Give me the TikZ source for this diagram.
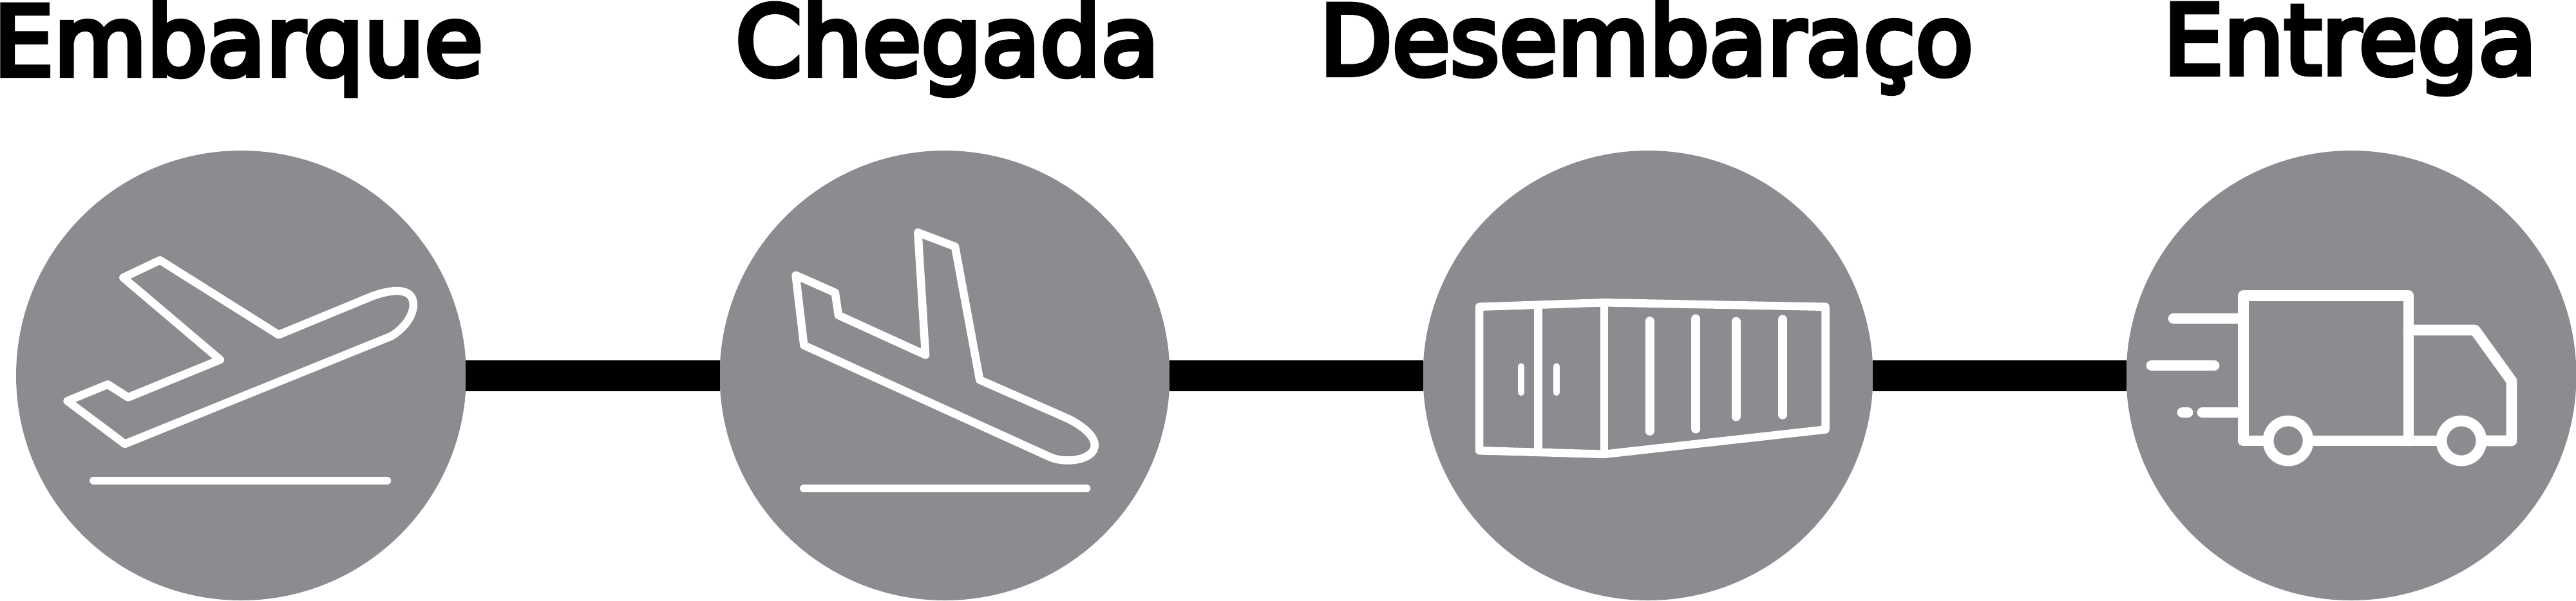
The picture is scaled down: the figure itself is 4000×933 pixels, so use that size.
\documentclass[tikz,border=0pt]{standalone}
\usepackage{graphicx}
\usepackage{fontspec}
\newfontfamily\titlefont{DejaVu Sans}[RawFeature={embolden=5.5}]
\definecolor{disc}{RGB}{138,140,143}
\tikzset{
  disc node/.style={circle,fill=disc,draw=none,inner sep=0pt,outer sep=0pt,minimum size=69.9pt},
  title node/.style={anchor=base west,inner sep=0pt,outer sep=0pt,font=\fontsize{15pt}{15pt}\titlefont},
  link/.style={line width=4.8pt,black,shorten <=-0.05pt,shorten >=-0.05pt},
  icon/.style={draw=white,line width=1.25pt,line join=round,line cap=round},
  rib/.style={draw=white,line width=1.4pt,line cap=round},
  handle/.style={draw=white,line width=1pt,line cap=round},
  truck/.style={draw=white,line width=1.68pt,line join=round,line cap=round},
  zoomed/.style={x=0.05102pt,y=-0.04675pt}
}
\begin{document}
\begin{tikzpicture}[x=0.1pt,y=-0.1pt]
\useasboundingbox (0,0) rectangle (4000,933);
\fill[white] (0,0) rectangle (4000,933);
\node[disc node] (c1) at (374.5,583.5) {};
\node[disc node] (c2) at (1467,583.5) {};
\node[disc node] (c3) at (2559,583.5) {};
\node[disc node] (c4) at (3651,583.5) {};
\draw[link] (c1) -- (c2);
\draw[link] (c2) -- (c3);
\draw[link] (c3) -- (c4);
\node[title node] (t1) at (-10,117) {\resizebox{76pt}{\height}{Embarque}};
\node[title node] (t2) at (1142,117) {\resizebox{65.8pt}{\height}{Chegada}};
\node[title node] (t3) at (2049,116) {\resizebox{101.5pt}{\height}{Desembaraço}};
\node[title node] (t4) at (3359,115) {\resizebox{58pt}{\height}{Entrega}};
% take-off plane
\begin{scope}[xshift=0pt,yshift=-20pt,zoomed]
\draw[icon] (375,495) -- (487,437) -- (848,685) -- (1130,558)
  .. controls (1190,533) and (1258,525) .. (1258,585)
  .. controls (1258,625) and (1225,668) .. (1190,690)
  -- (380,1048) -- (205,905) -- (328,850) -- (390,893) -- (670,768) -- cycle;
\draw[icon] (285,1170) -- (1178,1170);
\end{scope}
% landing plane
\begin{scope}[xshift=108pt,yshift=-20pt,zoomed]
\draw[icon] (305,487) -- (425,545) -- (435,620) -- (700,752) -- (677,345) -- (790,392)
  -- (865,835) -- (1130,962)
  .. controls (1175,985) and (1215,1020) .. (1215,1052)
  .. controls (1215,1100) and (1130,1115) .. (1080,1092)
  -- (330,720) -- cycle;
\draw[icon] (330,1196) -- (1190,1196);
\end{scope}
% container
\begin{scope}[xshift=218pt,yshift=-20pt,zoomed]
\draw[icon] (230,592) -- (610,578) -- (1283,592) -- (1283,1000) -- (610,1082) -- (230,1070) -- cycle;
\draw[icon,line cap=butt] (610,578) -- (610,1082);
\draw[icon,line cap=butt] (409,590) -- (409,1075);
\draw[handle] (357,790) -- (357,877);
\draw[handle] (464,790) -- (464,877);
\draw[rib] (748,640) -- (748,1005);
\draw[rib] (889,632) -- (889,998);
\draw[rib] (1011,641) -- (1011,957);
\draw[rib] (1153,634) -- (1153,951);
\end{scope}
% truck
\draw[truck] (3515,685) -- (3483.5,685) -- (3483.5,459.5) -- (3740,459.5) -- (3740,685);
\draw[truck] (3740,513) -- (3843,513) -- (3900,592) -- (3900,685) -- (3853,685);
\draw[truck] (3590,685) -- (3788,685);
\draw[truck] (3553,685) circle [radius=3.1pt];
\draw[truck] (3822,685) circle [radius=3.1pt];
\draw[truck] (3375,495) -- (3480,495);
\draw[truck] (3341,568) -- (3438,568);
\draw[truck] (3389,641) -- (3397,641);
\draw[truck] (3420,641) -- (3480,641);
\end{tikzpicture}
\end{document}
